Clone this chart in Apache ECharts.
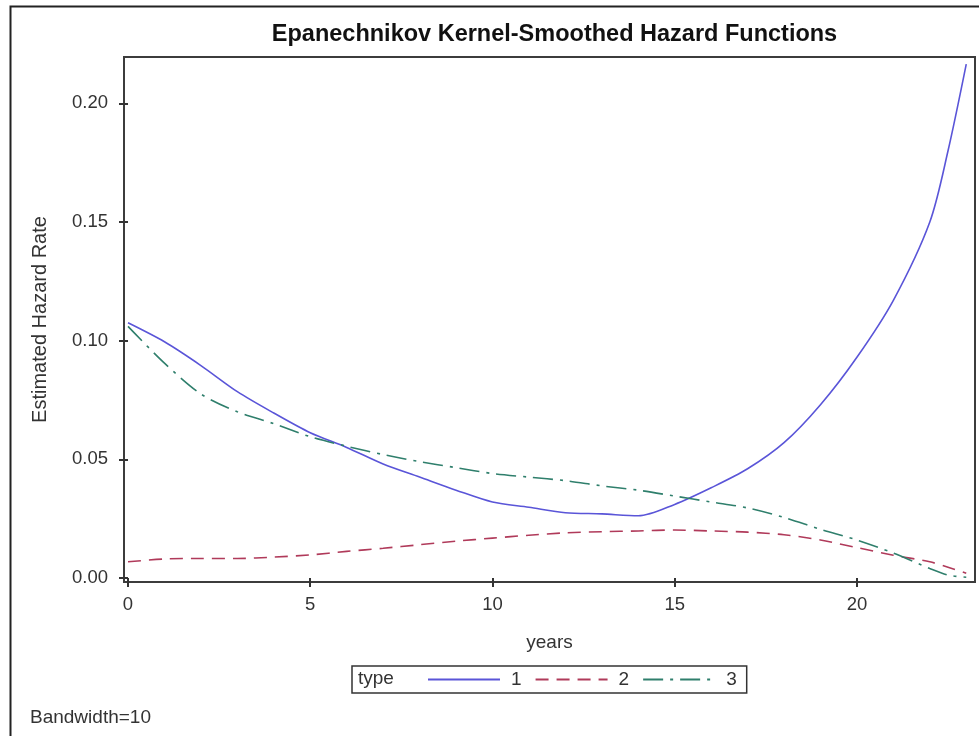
<!DOCTYPE html>
<html>
<head>
<meta charset="utf-8">
<title>Epanechnikov Kernel-Smoothed Hazard Functions</title>
<script src="https://cdn.jsdelivr.net/npm/echarts@6/dist/echarts.min.js"></script>
<style>
  html, body { margin: 0; padding: 0; background: #fff; }
  #chart { width: 979px; height: 736px; }
</style>
</head>
<body>
<div id="chart"></div>
<script>
// Time grid (years) shared by the three smoothed hazard curves
const years = [0, 1, 2, 3, 4, 5, 6, 7, 8, 9, 10, 11, 12, 13, 14, 15, 16, 17, 18, 19, 20, 21, 22, 22.5, 23];

// Estimated hazard rate per type
const hazardType1 = [0.1075, 0.0995, 0.0895, 0.0785, 0.0695, 0.0612, 0.0550, 0.0480, 0.0425, 0.0370,
                     0.0320, 0.0298, 0.0275, 0.0270, 0.0262, 0.0310, 0.0380, 0.0460, 0.0570, 0.0730,
                     0.0930, 0.1170, 0.1500, 0.1800, 0.2165];
const hazardType2 = [0.0068, 0.0080, 0.0082, 0.0082, 0.0088, 0.0097, 0.0112, 0.0125, 0.0140, 0.0155,
                     0.0168, 0.0180, 0.0190, 0.0195, 0.0198, 0.0202, 0.0198, 0.0193, 0.0182, 0.0160,
                     0.0128, 0.0096, 0.0068, 0.0045, 0.0020];
const hazardType3 = [0.1060, 0.0905, 0.0775, 0.0700, 0.0650, 0.0595, 0.0555, 0.0520, 0.0490, 0.0465,
                     0.0440, 0.0425, 0.0410, 0.0388, 0.0370, 0.0345, 0.0320, 0.0295, 0.0255, 0.0205,
                     0.0160, 0.0105, 0.0040, 0.0012, 0.0003];

const typeNames = ['1', '2', '3'];
const xTicks = [0, 5, 10, 15, 20];
const yTicks = [0, 0.05, 0.10, 0.15, 0.20];

const FONT = '"Liberation Sans", Arial, Helvetica, sans-serif';
const INK = '#333333';

function pairs(values) {
  return years.map((t, i) => [t, values[i]]);
}

const chart = echarts.init(document.getElementById('chart'), null, { renderer: 'canvas' });

chart.setOption({
  backgroundColor: '#ffffff',
  animation: false,
  textStyle: { fontFamily: FONT, color: INK },
  title: {
    text: 'Epanechnikov Kernel-Smoothed Hazard Functions',
    left: 549.5,
    textAlign: 'center',
    top: 18,
    textStyle: { fontFamily: FONT, fontSize: 23.5, fontWeight: 'bold', color: '#111' }
  },
  grid: {
    left: 124, top: 57, width: 851, height: 525,
    show: true, borderColor: '#3c3c3c', borderWidth: 2, backgroundColor: '#fff'
  },
  xAxis: {
    type: 'value',
    min: -0.11, max: 23.24,
    name: 'years',
    nameLocation: 'middle',
    nameGap: 51,
    nameTextStyle: { fontFamily: FONT, fontSize: 19, color: INK },
    axisLine: { show: false },
    splitLine: { show: false },
    axisTick: { show: true, inside: false, length: 9, customValues: xTicks,
                lineStyle: { color: '#333', width: 2 } },
    axisLabel: { customValues: xTicks, margin: 13, fontFamily: FONT, fontSize: 18.5, color: INK,
                 formatter: v => String(v) }
  },
  yAxis: {
    type: 'value',
    min: -0.0017, max: 0.2195,
    name: 'Estimated Hazard Rate',
    nameLocation: 'middle',
    nameGap: 74,
    nameTextStyle: { fontFamily: FONT, fontSize: 20, color: INK },
    axisLine: { show: false },
    splitLine: { show: false },
    axisTick: { show: true, inside: false, length: 9, customValues: yTicks,
                lineStyle: { color: '#333', width: 2 } },
    axisLabel: { customValues: yTicks, margin: 16, fontFamily: FONT, fontSize: 18.5, color: INK,
                 formatter: v => v.toFixed(2) }
  },
  legend: {
    left: 352, top: 666,
    padding: [4, 10, 4, 75],
    borderColor: '#333', borderWidth: 1.5,
    itemWidth: 72, itemHeight: 14, itemGap: 13,
    itemStyle: { opacity: 0 },
    textStyle: { fontFamily: FONT, fontSize: 19, color: INK, padding: [0, 0, 0, 6] },
    data: typeNames
  },
  graphic: [
    { type: 'rect', left: 8, top: 4, silent: true, z: -10,
      shape: { width: 1000, height: 1000 },
      style: { fill: 'none', stroke: '#222', lineWidth: 2 } },
    { type: 'text', left: 358, top: 669, silent: true,
      style: { text: 'type', font: '19px ' + FONT, fill: INK } },
    { type: 'text', left: 30, top: 708, silent: true,
      style: { text: 'Bandwidth=10', font: '19px ' + FONT, fill: INK } }
  ],
  series: [
    { name: typeNames[0], type: 'line', data: pairs(hazardType1), showSymbol: false, symbol: 'none',
      smooth: 0.3,
      lineStyle: { color: '#5a55d8', width: 1.6, type: 'solid' }, itemStyle: { color: '#5a55d8' } },
    { name: typeNames[1], type: 'line', data: pairs(hazardType2), showSymbol: false, symbol: 'none',
      smooth: 0.3,
      lineStyle: { color: '#b03a5a', width: 1.6, type: [13, 8] }, itemStyle: { color: '#b03a5a' } },
    { name: typeNames[2], type: 'line', data: pairs(hazardType3), showSymbol: false, symbol: 'none',
      smooth: 0.3,
      lineStyle: { color: '#2f7f6c', width: 1.6, type: [20, 7, 3, 7] }, itemStyle: { color: '#2f7f6c' } }
  ]
});
</script>
</body>
</html>
